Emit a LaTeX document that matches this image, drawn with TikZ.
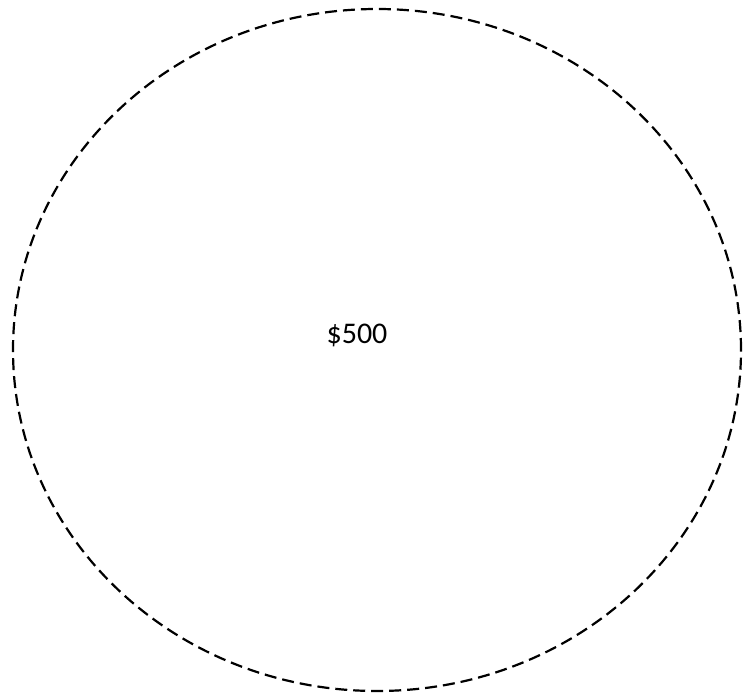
\documentclass[tikz,border=0pt]{standalone}
\usepackage{fontspec}
\setmainfont{Carlito}
\usepackage{tikz}
\usetikzlibrary{shapes.geometric}

\begin{document}
\begin{tikzpicture}[
  x=1pt, y=-1pt,
  budget/.style={ellipse, draw, line width=2.2pt, dash pattern=on 12pt off 6pt, minimum width=728pt, minimum height=682pt, inner sep=0pt},
  amount/.style={font=\fontsize{30}{36}\selectfont, inner sep=0pt}
]
  \useasboundingbox (0,0) rectangle (744,696);
  \node[budget] (pool) at (377,350) {};
  \node[amount] (total) at (357,335) {\$500};
\end{tikzpicture}
\end{document}
